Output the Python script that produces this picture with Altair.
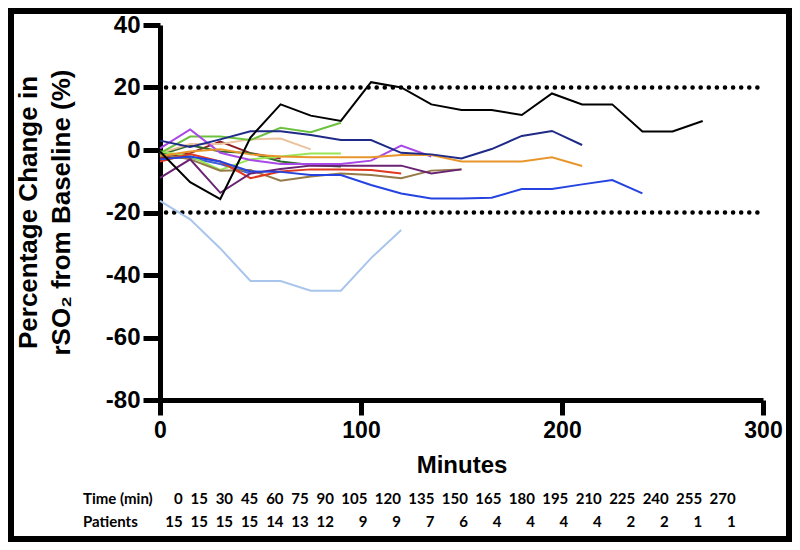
import altair as alt
import pandas as pd

# ---------------- data ----------------
times = [0, 15, 30, 45, 60, 75, 90, 105, 120, 135, 150, 165, 180, 195, 210, 225, 240, 255, 270]

s_black = [-0.5, -10.3, -15.7, 4.0, 14.6, 11.0, 9.3, 21.7, 20.0, 14.6, 12.8, 12.8, 11.2, 18.1, 14.6, 14.6, 5.9, 5.9, 9.3]
s_navy = [3.0, 1.0, 3.4, 6.0, 6.0, 4.8, 3.2, 3.2, -0.9, -1.4, -2.7, 0.3, 4.5, 6.1, 1.6]
s_blue = [-3.0, -2.1, -3.7, -6.9, -7.0, -8.0, -8.0, -11.2, -13.9, -15.5, -15.5, -15.3, -12.5, -12.5, -11.0, -9.6, -13.9]
s_lightblue = [-16.3, -22.2, -31.5, -41.9, -41.9, -45.0, -45.0, -34.6, -25.6]
s_green = [-1.0, 4.3, 4.3, 3.2, 7.1, 5.7, 8.7]
s_lime = [-0.5, -2.0, -6.4, -3.0, -2.1, -1.1, -1.1]
s_orange = [-1.9, -0.5, 0.2, -1.4, -2.1, -2.3, -2.3, -2.3, -1.6, -1.6, -3.7, -3.7, -3.7, -2.3, -5.1]
s_peach = [-1.0, 1.9, 1.9, 3.4, 3.7, 0.2]
s_violet = [0.5, 6.6, -0.9, -3.2, -4.5, -4.5, -4.5, -3.4, 1.4, -2.1]
s_plum = [-8.9, -3.0, -13.7, -7.5, -6.1, -5.0, -5.0, -5.0, -5.0, -7.5, -6.2]
s_red = [-3.7, -1.3, -3.7, -9.0, -6.9, -6.2, -6.2, -6.4, -7.5]
s_maroon = [-2.7, -1.0, 2.7, -1.0, -2.7]
s_brown = [-1.3, -3.0, -6.6, -6.4, -9.8, -8.5, -7.5, -8.0, -9.0, -6.6, -6.2]
s_darkgreen = [-1.5, 1.5, -0.5, -1.0, -3.7, -4.8, -5.3]
s_midblue = [-2.5, -2.5, -4.5, -7.5]

series_names = ["lightblue", "midblue", "maroon", "darkgreen", "peach", "lime", "green",
                "brown", "red", "plum", "violet", "orange", "blue", "navy", "black"]
series_values = [s_lightblue, s_midblue, s_maroon, s_darkgreen, s_peach, s_lime, s_green,
                 s_brown, s_red, s_plum, s_violet, s_orange, s_blue, s_navy, s_black]
series_colors = ["#A9C5EC", "#3F5FD8", "#8E1E22", "#2F6B2A", "#EBC39E", "#98E654", "#6CC23E",
                 "#957A48", "#E0381E", "#6A2373", "#A848E6", "#E8962C", "#2443E0", "#1F2A88", "#000000"]

limits = [20, -20]

table_times = times
patients = [15, 15, 15, 15, 14, 13, 12, 9, 9, 7, 6, 4, 4, 4, 4, 2, 2, 1, 1]
row_labels = ["Time (min)", "Patients"]

# ---------------- tables ----------------
rows = []
for name, vals in zip(series_names, series_values):
    for t, v in zip(times, vals):
        rows.append({"series": name, "time": t, "value": v})
df = pd.DataFrame(rows)

df_lim = pd.DataFrame({"limit": limits})
df_time = pd.DataFrame({"t": table_times, "label": [str(t) for t in table_times]})
df_pat = pd.DataFrame({"t": table_times, "label": [str(p) for p in patients]})

FONT = "Liberation Sans"
TFONT = "Lato"

x_scale = alt.Scale(domain=[0, 300], nice=False, zero=False)
y_scale = alt.Scale(domain=[-80, 40], nice=False, zero=False)

frame = alt.Chart(pd.DataFrame({"f": [0]})).mark_rect(
    fill="transparent", stroke="black", strokeWidth=6
).encode(
    x=alt.value(-149), x2=alt.value(629), y=alt.value(-14), y2=alt.value(514)
)

rules = alt.Chart(df_lim).mark_rule(
    color="black", strokeWidth=4.5, strokeDash=[0.1, 8], strokeCap="round"
).encode(
    y=alt.Y("limit:Q", scale=y_scale),
    x=alt.datum(3, scale=x_scale),
    x2=alt.datum(298),
)

lines = alt.Chart(df).mark_line(strokeWidth=2).encode(
    x=alt.X("time:Q", scale=x_scale,
            axis=alt.Axis(values=[0, 100, 200, 300], title="Minutes",
                          labelFontSize=23, tickSize=15, labelPadding=4,
                          labelFlush=False,
                          titleFontSize=24, titlePadding=11)),
    y=alt.Y("value:Q", scale=y_scale,
            axis=alt.Axis(values=[-80, -60, -40, -20, 0, 20, 40],
                          labelExpr="'' + datum.value",
                          labelFlush=False,
                          title=["Percentage Change in", "rSO\u2082 from Baseline (%)"],
                          labelFontSize=24, tickSize=17, labelPadding=3,
                          titleFontSize=26, titleLineHeight=33,
                          titleX=-124, titleY=187, titleBaseline="alphabetic",
                          titleAngle=270, titleAlign="center")),
    color=alt.Color("series:N", scale=alt.Scale(domain=series_names, range=series_colors), legend=None),
    detail="series:N",
)

table_scale = alt.Scale(domain=[0, 90, 270], range=[22.6, 174, 575.7], nice=False, zero=False)

text_style = dict(baseline="middle", font=TFONT, fontWeight="bold", fontSize=15, color="black")

time_row = alt.Chart(df_time).mark_text(align="right", **text_style).encode(
    x=alt.X("t:Q", scale=table_scale, axis=None),
    y=alt.value(474),
    text="label:N",
)
pat_row = alt.Chart(df_pat).mark_text(align="right", **text_style).encode(
    x=alt.X("t:Q", scale=table_scale, axis=None),
    y=alt.value(497),
    text="label:N",
)
lab1 = alt.Chart(pd.DataFrame({"label": [row_labels[0]]})).mark_text(align="left", **text_style).encode(
    x=alt.value(-77), y=alt.value(474), text="label:N")
lab2 = alt.Chart(pd.DataFrame({"label": [row_labels[1]]})).mark_text(align="left", **text_style).encode(
    x=alt.value(-77), y=alt.value(497), text="label:N")

main = alt.layer(frame, rules, lines)
table = alt.layer(time_row, pat_row)

chart = alt.layer(main, table, lab1, lab2).resolve_scale(x="independent").properties(
    width=603, height=375,
    padding={"left": 152, "top": 17, "right": 29, "bottom": 142},
    autosize=alt.AutoSizeParams(type="none"),
    background="white",
).configure_view(strokeWidth=0).configure_axis(
    domainColor="black", domainWidth=5, tickColor="black", tickWidth=5,
    labelFont=FONT, labelFontWeight="bold", labelColor="black",
    titleFont=FONT, titleFontWeight="bold", titleColor="black",
    grid=False,
)

chart.save("out.html", embed_options={"renderer": "svg", "actions": False})
